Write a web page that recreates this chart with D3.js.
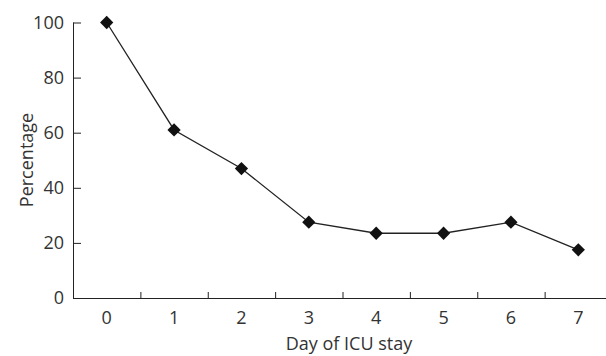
<!DOCTYPE html>
<html>
<head>
<meta charset="utf-8">
<script src="https://cdn.jsdelivr.net/npm/d3@7"></script>
<style>
  body { margin: 0; background: #fff; }
  text { font-family: "Open Sans", sans-serif; fill: #333; }
</style>
</head>
<body>
<svg width="606" height="356"></svg>
<script>
const days = [0, 1, 2, 3, 4, 5, 6, 7];
const percentage = [100, 61, 47, 27.5, 23.5, 23.5, 27.5, 17.5];
const yTicks = [0, 20, 40, 60, 80, 100];

const svg = d3.select('svg');
const mLeft = 73, mRight = 612, mTop = 22.5, mBottom = 298;
const fs = 18;

const x = d3.scaleBand().domain(days).range([mLeft, mRight]);
const y = d3.scaleLinear().domain([0, 100]).range([mBottom, mTop]);

// y axis, ticks point inward
const yAxis = svg.append('g').attr('transform', `translate(${mLeft},0)`)
  .call(d3.axisLeft(y).tickValues(yTicks).tickSizeInner(-8).tickSizeOuter(0).tickPadding(9));
yAxis.select('.domain').attr('stroke', '#222').attr('d', `M0.5,${mTop}V${mBottom}`);
yAxis.selectAll('.tick line').attr('stroke', '#222');
yAxis.selectAll('text').attr('font-size', fs).attr('fill', '#333').attr('font-family', null);

// x axis, ticks between categories pointing up
const xAxis = svg.append('g').attr('transform', `translate(0,${mBottom})`);
xAxis.append('line')
  .attr('x1', mLeft).attr('x2', 606).attr('y1', 0.5).attr('y2', 0.5)
  .attr('stroke', '#222');
xAxis.selectAll('.sep')
  .data(days.slice(1))
  .enter().append('line')
  .attr('x1', d => x(d) + 0.5).attr('x2', d => x(d) + 0.5)
  .attr('y1', 0).attr('y2', -6)
  .attr('stroke', '#222');
xAxis.selectAll('.lbl')
  .data(days)
  .enter().append('text')
  .attr('x', d => x(d) + x.bandwidth() / 2)
  .attr('y', 26)
  .attr('text-anchor', 'middle')
  .attr('font-size', fs)
  .text(d => d);

svg.append('text')
  .attr('x', 349).attr('y', 350)
  .attr('text-anchor', 'middle')
  .attr('font-size', fs)
  .text('Day of ICU stay');

svg.append('text')
  .attr('transform', 'translate(33,160) rotate(-90)')
  .attr('text-anchor', 'middle')
  .attr('font-size', fs)
  .text('Percentage');

const cx = d => x(d) + x.bandwidth() / 2;

svg.append('path')
  .datum(days)
  .attr('fill', 'none')
  .attr('stroke', '#222')
  .attr('stroke-width', 1.3)
  .attr('d', d3.line().x(d => cx(d)).y((d, i) => y(percentage[i])));

svg.selectAll('.pt')
  .data(days)
  .enter().append('path')
  .attr('d', d3.symbol().type(d3.symbolSquare).size(88))
  .attr('transform', (d, i) => `translate(${cx(d)},${y(percentage[i])}) rotate(45)`)
  .attr('fill', '#111');
</script>
</body>
</html>
